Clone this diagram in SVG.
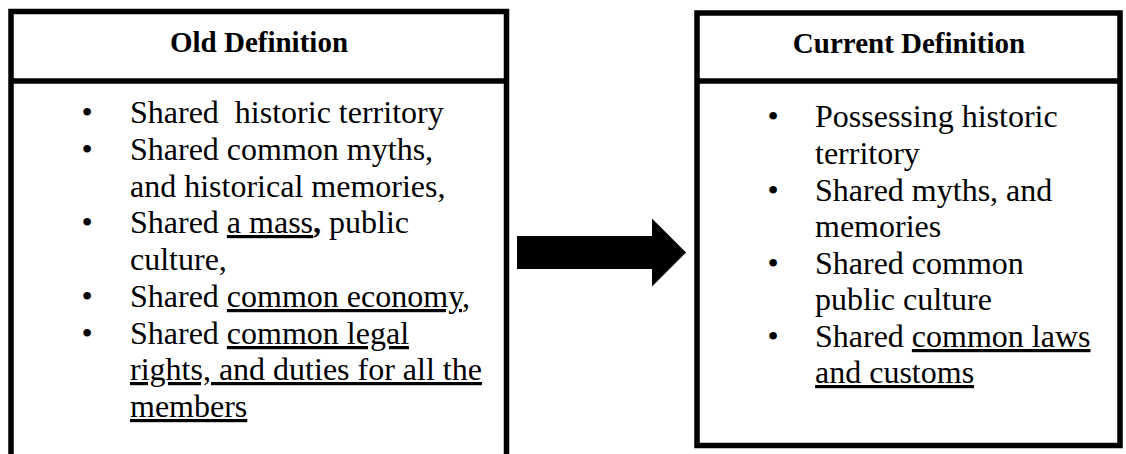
<svg xmlns="http://www.w3.org/2000/svg" width="1126" height="454" viewBox="0 0 1126 454">
<style>
.frame{fill:none;stroke:#000;stroke-width:5.5;stroke-linejoin:miter}
.hdr{font-family:"Liberation Serif","Times New Roman",serif;font-weight:bold;font-size:29px;fill:#000;text-anchor:middle}
.body{font-family:"Liberation Serif","Times New Roman",serif;font-size:32px;fill:#000}
.bul{font-family:"Liberation Serif","Times New Roman",serif;font-size:32px;fill:#000;text-anchor:middle}
.u{text-decoration:underline}
</style>
<rect width="1126" height="454" fill="#fff"/>
<g id="old-definition">
<path class="frame" d="M11,456 V11.5 H506.5 V456"/>
<line class="frame" x1="11" y1="81" x2="506.5" y2="81"/>
<text class="hdr" x="259" y="52">Old Definition</text>
<text class="bul" x="87" y="123">•</text>
<text class="bul" x="87" y="160">•</text>
<text class="bul" x="87" y="233">•</text>
<text class="bul" x="87" y="307">•</text>
<text class="bul" x="87" y="344">•</text>
<text class="body" x="130" y="123" xml:space="preserve">Shared  historic territory</text>
<text class="body" x="130" y="160">Shared common myths,</text>
<text class="body" x="130" y="197">and historical memories,</text>
<text class="body" x="130" y="233" xml:space="preserve">Shared <tspan class="u">a mass<tspan font-weight="bold">,</tspan></tspan> public</text>
<text class="body" x="130" y="270">culture,</text>
<text class="body" x="130" y="307" xml:space="preserve">Shared <tspan class="u">common economy</tspan>,</text>
<text class="body" x="130" y="344" xml:space="preserve">Shared <tspan class="u">common legal</tspan></text>
<text class="body u" x="130" y="380">rights, and duties for all the</text>
<text class="body u" x="130" y="417">members</text>
</g>
<g id="current-definition">
<rect class="frame" x="697" y="13" width="423" height="432.5" stroke-width="5"/>
<line class="frame" x1="697" y1="81" x2="1120" y2="81" stroke-width="5"/>
<text class="hdr" x="909" y="53">Current Definition</text>
<text class="bul" x="773" y="127">•</text>
<text class="bul" x="773" y="201">•</text>
<text class="bul" x="773" y="274">•</text>
<text class="bul" x="773" y="347">•</text>
<text class="body" x="815" y="127">Possessing historic</text>
<text class="body" x="815" y="164">territory</text>
<text class="body" x="815" y="201">Shared myths, and</text>
<text class="body" x="815" y="237">memories</text>
<text class="body" x="815" y="274">Shared common</text>
<text class="body" x="815" y="310">public culture</text>
<text class="body" x="815" y="347" xml:space="preserve">Shared <tspan class="u">common laws</tspan></text>
<text class="body u" x="815" y="383">and customs</text>
</g>
<g id="connectors">
<polygon points="517,236 652,236 652,218.5 686,252.5 652,286.5 652,269 517,269" fill="#000"/>
</g>
</svg>
